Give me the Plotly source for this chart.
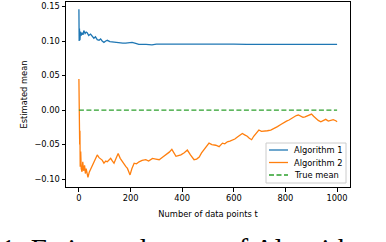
import plotly.graph_objects as go

# ---------------- data ----------------
t_alg1 = [0, 1, 2, 4, 6, 9, 12, 16, 19, 24, 28, 32, 38, 45, 50, 58, 64, 71, 78, 84,
          90, 97, 104, 110, 120, 129, 140, 155, 170, 181, 195, 206, 220, 232, 260,
          283, 300, 309, 320, 335, 360, 400, 430, 465, 500, 530, 560, 600, 650,
          700, 750, 800, 850, 900, 950, 1000]
alg1 = [0.146, 0.100, 0.118, 0.101, 0.1135, 0.108, 0.112, 0.109, 0.115, 0.111,
        0.113, 0.112, 0.108, 0.110, 0.107, 0.104, 0.106, 0.102, 0.101, 0.103,
        0.100, 0.098, 0.100, 0.101, 0.099, 0.0985, 0.098, 0.098, 0.097, 0.097,
        0.0975, 0.098, 0.0965, 0.095, 0.095, 0.0945, 0.0955, 0.0955, 0.096,
        0.0965, 0.096, 0.096, 0.0955, 0.096, 0.096, 0.0955, 0.0955, 0.0955,
        0.095, 0.095, 0.0955, 0.0955, 0.095, 0.095, 0.0955, 0.095]

t_alg2 = [0, 1, 2, 3, 4, 5, 7, 9, 12, 15, 18, 22, 25, 28, 32, 35, 40, 45, 51, 58,
          65, 71, 78, 84, 90, 97, 104, 110, 117, 123, 130, 136, 144, 152, 160, 168,
          176, 182, 188, 193, 198, 205, 214, 223, 233, 245, 259, 270, 285, 298,
          311, 325, 337, 350, 360, 368, 376, 385, 395, 408, 420, 432, 446, 456,
          466, 475, 485, 495, 504, 515, 530, 543, 556, 565, 575, 585, 594, 604,
          614, 625, 633, 642, 652, 660, 669, 677, 685, 697, 707, 717, 730, 743,
          756, 769, 782, 794, 804, 814, 824, 833, 842, 850, 858, 868, 876, 884,
          893, 901, 909, 917, 927, 937, 946, 956, 966, 975, 985, 995, 1000]
alg2 = [0.045, -0.020, 0.010, -0.050, -0.030, -0.082, -0.060, -0.085, -0.0895,
        -0.075, -0.088, -0.080, -0.092, -0.085, -0.094, -0.0976, -0.090, -0.086,
        -0.080, -0.074, -0.070, -0.065, -0.069, -0.071, -0.0725, -0.077, -0.074,
        -0.075, -0.072, -0.070, -0.074, -0.077, -0.070, -0.063, -0.070, -0.075,
        -0.078, -0.082, -0.0846, -0.090, -0.094, -0.085, -0.077, -0.078, -0.075,
        -0.073, -0.072, -0.074, -0.070, -0.071, -0.072, -0.068, -0.065, -0.061,
        -0.057, -0.063, -0.067, -0.066, -0.065, -0.062, -0.058, -0.065, -0.072,
        -0.071, -0.068, -0.062, -0.057, -0.052, -0.048, -0.050, -0.051, -0.053,
        -0.048, -0.049, -0.046, -0.045, -0.044, -0.042, -0.039, -0.036, -0.034,
        -0.036, -0.038, -0.041, -0.043, -0.038, -0.034, -0.029, -0.031, -0.031,
        -0.030, -0.029, -0.027, -0.024, -0.021, -0.018, -0.016, -0.0145, -0.012,
        -0.0097, -0.008, -0.0072, -0.009, -0.0106, -0.010, -0.0087, -0.007,
        -0.0058, -0.009, -0.012, -0.015, -0.017, -0.015, -0.0135, -0.016,
        -0.0155, -0.014, -0.0155, -0.017]

t_true = [0, 1000]
true_mean = [0.0, 0.0]

x_ticks = [0, 200, 400, 600, 800, 1000]
y_ticks = [-0.10, -0.05, 0.00, 0.05, 0.10, 0.15]

series_names = ["Algorithm 1", "Algorithm 2", "True mean"]
series_colors = ["#1f77b4", "#ff7f0e", "#2ca02c"]
series_dash = ["solid", "solid", "5px,2.5px"]
caption = "1: Estimated mean of Algorithm 1 and 2"

# ---------------- figure ----------------
W, H = 386, 242
ML, MR, MT, MB = 66, 36, 2, 55
PW, PH = W - ML - MR, H - MT - MB


def px(x):
    return (x - ML) / PW


def py(y):
    return (MT + PH - y) / PH


fig = go.Figure()
for tx, vals, name, col, dash in zip([t_alg1, t_alg2, t_true], [alg1, alg2, true_mean],
                                     series_names, series_colors, series_dash):
    fig.add_trace(go.Scatter(x=tx, y=vals, mode="lines", name=name,
                             line=dict(color=col, width=1.3, dash=dash)))

font_main = "DejaVu Sans"
fs = 8.3
fig.update_layout(
    width=W, height=H,
    margin=dict(l=ML, r=MR, t=MT, b=MB, pad=0, autoexpand=False),
    paper_bgcolor="white", plot_bgcolor="white",
    font=dict(family=font_main, size=fs, color="black"),
    showlegend=False,
    xaxis=dict(range=[-50, 1050], tickvals=x_ticks, ticktext=[str(v) for v in x_ticks],
               showgrid=False, zeroline=False, showline=True, linecolor="black",
               linewidth=1, mirror=True, ticks="outside", ticklen=3.5, tickwidth=0.8,
               tickcolor="black", tickfont=dict(size=fs), automargin=False,
               title=dict(text="Number of data points t", standoff=8,
                          font=dict(size=fs))),
    yaxis=dict(range=[-0.1115, 0.1565], tickvals=y_ticks, tickformat=".2f",
               showgrid=False, zeroline=False, showline=True, linecolor="black",
               linewidth=1, mirror=True, ticks="outside", ticklen=3.5, tickwidth=0.8,
               tickcolor="black", tickfont=dict(size=fs), automargin=False,
               title=dict(text="Estimated mean", standoff=5, font=dict(size=fs))),
)

# legend box (drawn manually to match the compact matplotlib legend)
fig.add_shape(type="rect", xref="paper", yref="paper",
              x0=px(266), x1=px(346), y0=py(183), y1=py(143),
              line=dict(color="#cccccc", width=1), fillcolor="rgba(255,255,255,0.8)",
              layer="above")
for i, (name, col, dash) in enumerate(zip(series_names, series_colors, series_dash)):
    yrow = 150 + 12.5 * i
    fig.add_shape(type="line", xref="paper", yref="paper",
                  x0=px(269), x1=px(288), y0=py(yrow), y1=py(yrow),
                  line=dict(color=col, width=1.3, dash=dash), layer="above")
    fig.add_annotation(text=name, xref="paper", yref="paper", x=px(292), y=py(yrow),
                       xanchor="left", yanchor="middle", showarrow=False,
                       font=dict(family=font_main, size=fs, color="black"))

fig.add_annotation(text=caption, xref="paper", yref="paper",
                   x=px(-1), y=py(231),
                   xanchor="left", yanchor="top", showarrow=False,
                   font=dict(family="Liberation Serif", size=29, color="black"))

fig.write_html("out.html",
               config={"displayModeBar": False},
               post_script="document.body.style.margin='0';"
                           "document.body.style.overflow='hidden';")
